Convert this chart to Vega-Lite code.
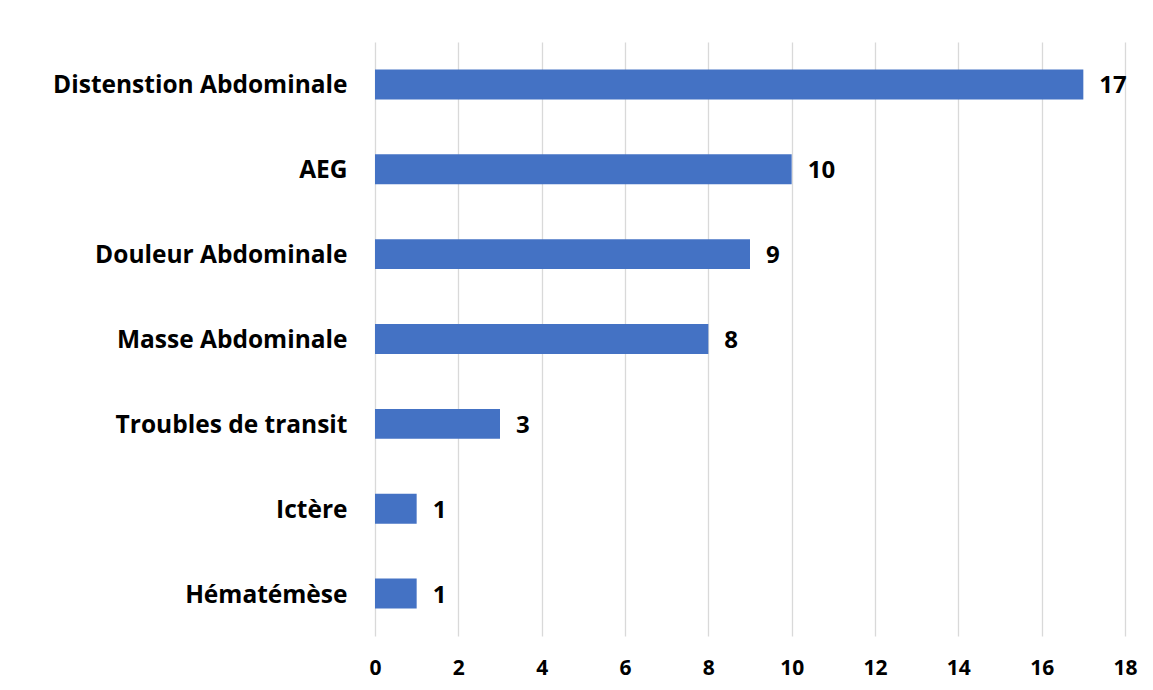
{
  "$schema": "https://vega.github.io/schema/vega-lite/v6.json",
  "autosize": "none",
  "width": 750,
  "height": 594,
  "padding": {"left": 375, "top": 42, "right": 28, "bottom": 54},
  "background": "white",
  "data": {
    "values": [
      {"symptome": "Distenstion Abdominale", "n": 17},
      {"symptome": "AEG", "n": 10},
      {"symptome": "Douleur Abdominale", "n": 9},
      {"symptome": "Masse Abdominale", "n": 8},
      {"symptome": "Troubles de transit", "n": 3},
      {"symptome": "Ictère", "n": 1},
      {"symptome": "Hématémèse\u00a0", "n": 1}
    ]
  },
  "encoding": {
    "y": {
      "field": "symptome",
      "type": "nominal",
      "sort": null,
      "scale": {"paddingInner": 0.647, "paddingOuter": 0.3235},
      "axis": {
        "title": null,
        "domain": false,
        "ticks": false,
        "grid": false,
        "labelPadding": 28,
        "labelOffset": 2,
        "labelFont": "Open Sans",
        "labelFontWeight": "bold",
        "labelFontSize": 24.5,
        "labelColor": "#000000",
        "labelLimit": 400
      }
    },
    "x": {
      "field": "n",
      "type": "quantitative",
      "scale": {"domain": [0, 18], "nice": false},
      "axis": {
        "title": null,
        "values": [0, 2, 4, 6, 8, 10, 12, 14, 16, 18],
        "domain": false,
        "ticks": false,
        "grid": true,
        "gridColor": "#D9D9D9",
        "gridWidth": 1.3,
        "labelPadding": 21,
        "labelFont": "Open Sans",
        "labelFontWeight": "bold",
        "labelFontSize": 21,
        "labelColor": "#000000",
        "labelFlush": false
      }
    }
  },
  "layer": [
    {"mark": {"type": "bar", "color": "#4472C4"}},
    {
      "mark": {
        "type": "text",
        "align": "left",
        "baseline": "middle",
        "dx": 16,
        "dy": 2,
        "font": "Open Sans",
        "fontWeight": "bold",
        "fontSize": 24,
        "color": "#000000"
      },
      "encoding": {"text": {"field": "n", "type": "quantitative"}}
    }
  ],
  "config": {"view": {"stroke": null}}
}
